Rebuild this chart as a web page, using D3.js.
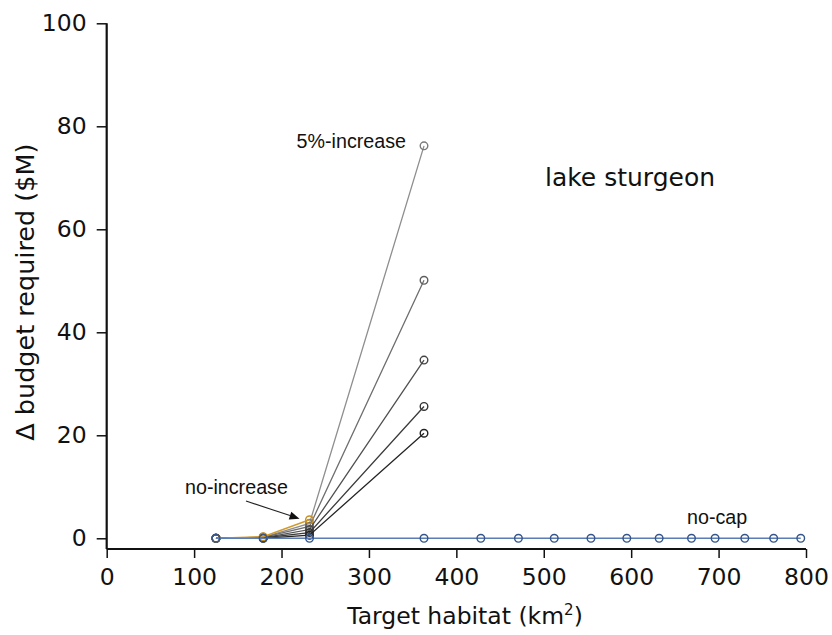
<!DOCTYPE html>
<html>
<head>
<meta charset="utf-8">
<script src="https://cdn.jsdelivr.net/npm/d3@7"></script>
<style>
  html, body { margin: 0; padding: 0; background: #fff; }
  svg { display: block; }
</style>
</head>
<body>
<svg id="chart" width="832" height="635"></svg>
<script>
// ---------- data ----------
const habitatNoCap = [125, 179, 232, 363, 428, 471, 512, 554, 595, 632, 669, 696, 730, 763, 794];
const budgetNoCap  = [0, 0, 0, 0, 0, 0, 0, 0, 0, 0, 0, 0, 0, 0, 0];

const habitatNoIncrease = [125, 179, 232];
const budgetNoIncrease  = [0, 0.3, 3.6];

const habitatCapped = [125, 179, 232, 363];
const budgetCap5 = [0, 0.2, 2.9, 76.2];
const budgetCap4 = [0, 0.2, 2.3, 50.1];
const budgetCap3 = [0, 0.1, 1.7, 34.6];
const budgetCap2 = [0, 0.1, 1.1, 25.6];
const budgetCap1 = [0, 0.0, 0.6, 20.4];

const xTicks = [0, 100, 200, 300, 400, 500, 600, 700, 800];
const yTicks = [0, 20, 40, 60, 80, 100];

// ---------- layout ----------
const svg = d3.select("#chart");
const mLeft = 106.7, mRight = 806, mTop = 23.3, mBottom = 549;

const x = d3.scaleLinear().domain([0, 800]).range([mLeft, mRight]);
const y = d3.scaleLinear().domain([-2.08, 100]).range([mBottom, mTop]);

const tickFont = "'DejaVu Sans', sans-serif";
const annFont = "'Liberation Sans', Arial, sans-serif";

// axes
const xAxis = d3.axisBottom(x).tickValues(xTicks).tickSize(9).tickPadding(10).tickFormat(d3.format("d"));
const yAxis = d3.axisLeft(y).tickValues(yTicks).tickSize(10).tickPadding(10).tickFormat(d3.format("d"));

const gx = svg.append("g").attr("transform", `translate(0,${mBottom})`).call(xAxis);
const gy = svg.append("g").attr("transform", `translate(${mLeft},0)`).call(yAxis);

[gx, gy].forEach(g => {
  g.select(".domain").attr("stroke", "#111").attr("stroke-width", 2.2);
  g.selectAll(".tick line").attr("stroke", "#111").attr("stroke-width", 1.5);
  g.selectAll(".tick text").attr("fill", "#111").style("font-family", tickFont).style("font-size", "23.5px");
});
gy.select(".domain").attr("d", `M0,${mBottom}V${mTop}`);
gx.select(".domain").attr("d", `M${mLeft},0H${mRight}`);

// axis labels
const xl = svg.append("text")
  .attr("x", 465).attr("y", 624)
  .attr("text-anchor", "middle")
  .style("font-family", tickFont).style("font-size", "23.5px").attr("fill", "#111");
xl.append("tspan").text("Target habitat (km");
xl.append("tspan").text("2").attr("dy", -9).style("font-size", "15px");
xl.append("tspan").text(")").attr("dy", 9);

svg.append("text")
  .attr("transform", `translate(34,${(mTop + mBottom) / 2 + 6}) rotate(-90)`)
  .attr("text-anchor", "middle")
  .style("font-family", tickFont).style("font-size", "25.5px").attr("fill", "#111")
  .text("\u0394 budget required ($M)");

// ---------- series ----------
const line = d3.line().x(d => x(d[0])).y(d => y(d[1]));

function drawSeries(xs, ys, lineColor, ptColor, lw) {
  const pts = xs.map((v, i) => [v, ys[i]]);
  svg.append("path").datum(pts)
    .attr("d", line).attr("fill", "none")
    .attr("stroke", lineColor).attr("stroke-width", lw);
  svg.append("g").selectAll("circle").data(pts).join("circle")
    .attr("cx", d => x(d[0])).attr("cy", d => y(d[1])).attr("r", 3.8)
    .attr("fill", "none").attr("stroke", ptColor).attr("stroke-width", 1.4);
}

drawSeries(habitatCapped, budgetCap5, "#8e8e8e", "#7a7a7a", 1.3);
drawSeries(habitatCapped, budgetCap4, "#6e6e6e", "#5e5e5e", 1.3);
drawSeries(habitatCapped, budgetCap3, "#505050", "#444", 1.3);
drawSeries(habitatCapped, budgetCap2, "#3a3a3a", "#333", 1.3);
drawSeries(habitatCapped, budgetCap1, "#252525", "#222", 1.3);
drawSeries(habitatNoIncrease, budgetNoIncrease, "#d19a2c", "#c68f22", 1.4);
drawSeries(habitatNoCap, budgetNoCap, "#5a7db5", "#34548a", 1.4);

// ---------- annotations ----------
svg.append("text").attr("x", 406).attr("y", 148).attr("text-anchor", "end")
  .style("font-family", annFont).style("font-size", "19.7px").attr("fill", "#111")
  .text("5%-increase");

svg.append("text").attr("x", 185).attr("y", 494)
  .style("font-family", annFont).style("font-size", "19.7px").attr("fill", "#111")
  .text("no-increase");

svg.append("text").attr("x", 687).attr("y", 524)
  .style("font-family", annFont).style("font-size", "19.7px").attr("fill", "#111")
  .text("no-cap");

svg.append("text").attr("x", 545).attr("y", 186)
  .style("font-family", tickFont).style("font-size", "25px").attr("fill", "#111")
  .text("lake sturgeon");

// arrow to no-increase end point
const tipX = x(232) - 10, tipY = y(3.6) - 1;
const sx = 246, sy = 501;
const ang = Math.atan2(tipY - sy, tipX - sx);
const hl = 10, hw = 4;
const bx = tipX - hl * Math.cos(ang), by = tipY - hl * Math.sin(ang);
svg.append("line").attr("x1", sx).attr("y1", sy).attr("x2", bx).attr("y2", by)
  .attr("stroke", "#222").attr("stroke-width", 1.1);
svg.append("polygon")
  .attr("points", [
    [tipX, tipY],
    [bx + hw * Math.sin(ang), by - hw * Math.cos(ang)],
    [bx - hw * Math.sin(ang), by + hw * Math.cos(ang)]
  ].map(p => p.join(",")).join(" "))
  .attr("fill", "#111");
</script>
</body>
</html>
